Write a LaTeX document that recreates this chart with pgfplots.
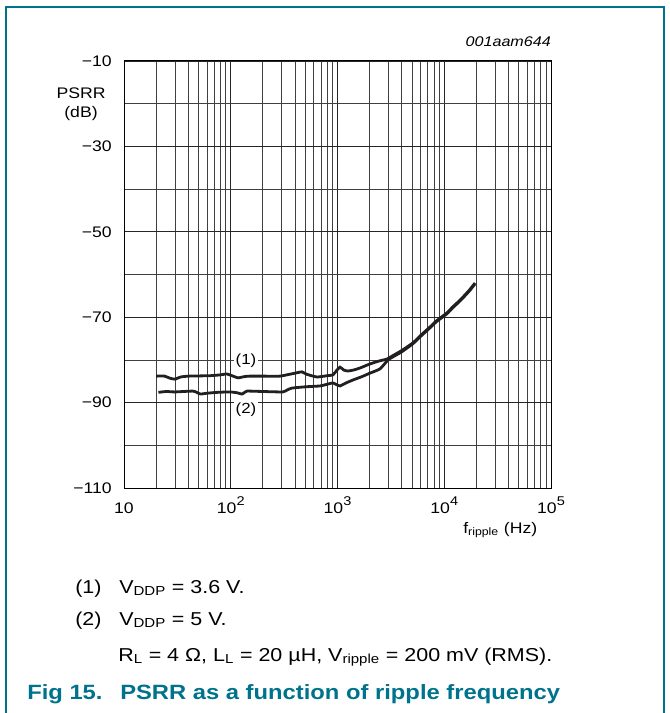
\documentclass[border=0pt]{standalone}
\usepackage{fontspec}
\setmainfont{Liberation Sans}[FakeStretch=1.15]
\usepackage{pgfplots}
\pgfplotsset{compat=1.18}
\definecolor{nxpteal}{RGB}{0,115,140}
\definecolor{curve}{RGB}{35,31,32}
\newcommand{\sps}[1]{\raisebox{0.9ex}{\fontsize{9.5}{11}\selectfont #1}}
\begin{document}
\begin{tikzpicture}
\useasboundingbox (0,0) rectangle (501.75pt,-534.75pt);
\begin{axis}[
  at={(93pt,-366pt)}, anchor=south west,
  scale only axis, width=320.25pt, height=320.25pt,
  xmode=log, xmin=10, xmax=100000, ymin=-110, ymax=-10,
  xtick={10,100,1000,10000,100000},
  xticklabels={10,10\sps{2},10\sps{3},10\sps{4},10\sps{5}},
  minor xtick={20,30,40,50,60,70,80,90,200,300,400,500,600,700,800,900,2000,3000,4000,5000,6000,7000,8000,9000,20000,30000,40000,50000,60000,70000,80000,90000},
  ytick={-110,-90,-70,-50,-30,-10},
  yticklabels={−110,−90,−70,−50,−30,−10},
  minor ytick={-100,-80,-60,-40,-20},
  major tick length=0pt, minor tick length=0pt,
  grid=both,
  major grid style={black!85, line width=0.65pt},
  minor grid style={black!75, line width=0.6pt},
  axis line style={black, line width=0.75pt},
  tick label style={font=\fontsize{11.5}{13}\selectfont, inner sep=0pt},
  yticklabel style={anchor=east, xshift=-9pt},
  xticklabel style={anchor=base, yshift=-18.75pt},
  /pgf/number format/assume math mode=true,
  clip=false,
]
\addplot[curve, line width=2.1pt, smooth, tension=0.3] coordinates {
(20,-83.8) (24,-83.8) (27,-84.3) (30,-84.5) (34,-84.0) (40,-83.8) (64,-83.7) (80,-83.5) (92,-83.3) (105,-83.8) (117,-84.2) (135,-83.9) (151,-83.8) (200,-83.8) (289,-83.8) (350,-83.4) (420,-83.0) (465,-82.8) (520,-83.4) (642,-84.0) (800,-83.7) (907,-83.5) (980,-82.5) (1055,-81.7) (1150,-82.4) (1254,-82.6) (1400,-82.4) (1625,-81.9) (1900,-81.2) (2152,-80.7) (2500,-80.2) (2911,-79.8) (3300,-79.0) (4000,-77.8) (5093,-76.0) (6000,-74.3) (7345,-72.3) (8500,-70.8) (10600,-69.0) (12000,-67.6) (14060,-66.0) (17000,-63.8) (19420,-62.0)
};
\addplot[curve, line width=2.1pt, smooth, tension=0.3] coordinates {
(21,-87.6) (25,-87.4) (30,-87.5) (44,-87.3) (48,-87.6) (52,-88.0) (60,-87.8) (75,-87.6) (98,-87.5) (115,-87.7) (127,-88.0) (135,-87.6) (142,-87.3) (200,-87.4) (308,-87.5) (340,-87.0) (375,-86.6) (500,-86.3) (686,-86.1) (800,-85.7) (907,-85.4) (980,-85.8) (1055,-86.1) (1200,-85.4) (1397,-84.7) (1700,-83.9) (2014,-83.1) (2500,-82.1) (2973,-80.0) (3300,-79.3) (4000,-78.1) (5093,-76.2) (6000,-74.5) (7345,-72.5) (8500,-71.0) (10600,-69.2) (12000,-67.8) (14060,-66.2) (17000,-64.0) (19420,-62.2)
};
\node[fill=white, inner sep=1.5pt, font=\fontsize{11}{13}\selectfont] at (axis cs:139,-80.3) {(1)};
\node[fill=white, inner sep=1.5pt, font=\fontsize{11}{13}\selectfont] at (axis cs:139,-91.7) {(2)};
\end{axis}
\begin{scope}[x=0.75pt,y=-0.75pt]
\draw[nxpteal, line width=1.1pt] (6,713) -- (6,7) -- (664,7) -- (664,713);
\node[font=\fontsize{11.5}{13}\selectfont] at (81,93) {PSRR};
\node[font=\fontsize{11.5}{13}\selectfont] at (81,114) {(dB)};
\node[font=\fontsize{10.5}{12}\itshape, anchor=base east, inner sep=0pt] at (551,47) {001aam644};
\node[font=\fontsize{11.5}{13}\selectfont, anchor=base west, inner sep=0pt] at (463,533) {f\textsubscript{ripple} (Hz)};
\node[font=\fontsize{14}{16}\selectfont, anchor=base west, inner sep=0pt] at (75,593) {(1)};
\node[font=\fontsize{14}{16}\selectfont, anchor=base west, inner sep=0pt] at (119,593) {V\textsubscript{DDP} = 3.6 V.};
\node[font=\fontsize{14}{16}\selectfont, anchor=base west, inner sep=0pt] at (75,625) {(2)};
\node[font=\fontsize{14}{16}\selectfont, anchor=base west, inner sep=0pt] at (119,625) {V\textsubscript{DDP} = 5 V.};
\node[font=\fontsize{14}{16}\selectfont, anchor=base west, inner sep=0pt] at (118,661) {R\textsubscript{L} = 4 Ω, L\textsubscript{L} = 20 µH, V\textsubscript{ripple} = 200 mV (RMS).};
\node[font=\fontsize{15.5}{18}\bfseries, text=nxpteal, anchor=base west, inner sep=0pt] at (27,699) {Fig 15.};
\node[font=\fontsize{15.5}{18}\bfseries, text=nxpteal, anchor=base west, inner sep=0pt] at (120,699) {PSRR as a function of ripple frequency};
\end{scope}
\end{tikzpicture}
\end{document}
